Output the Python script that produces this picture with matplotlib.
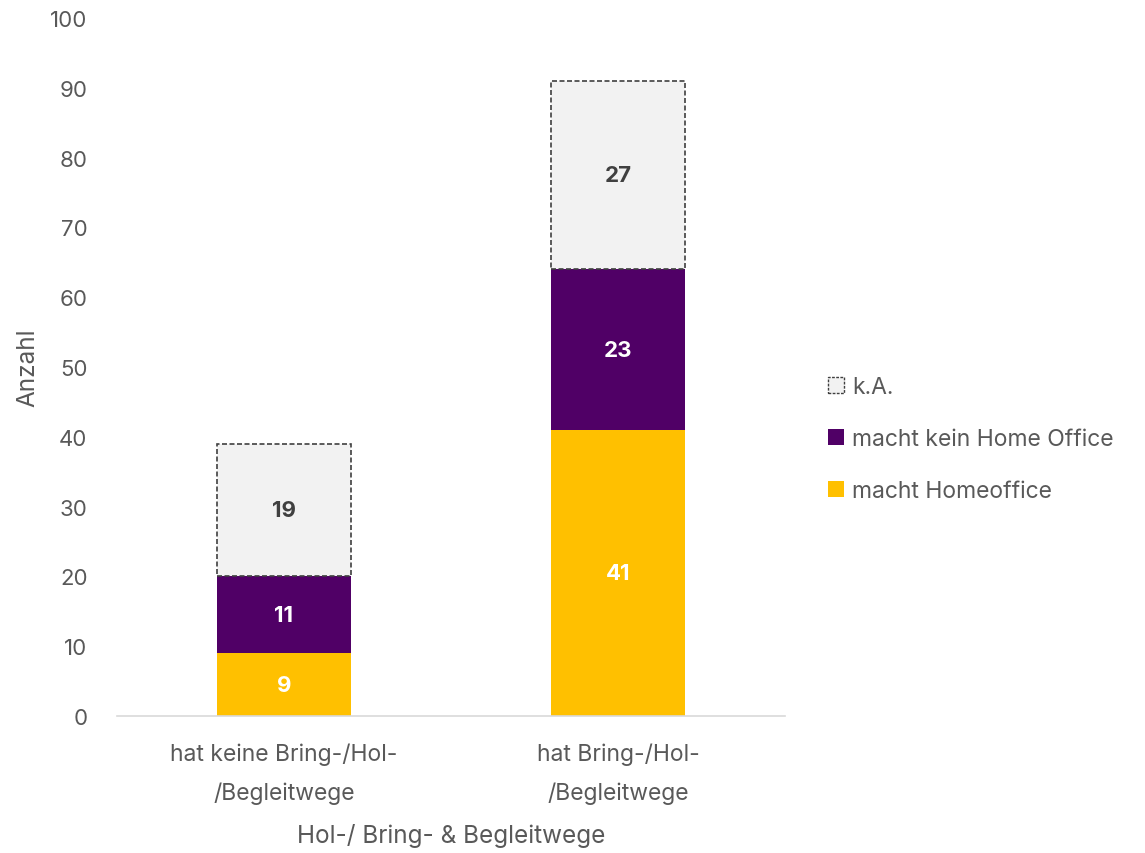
import numpy as np
import matplotlib
matplotlib.use("Agg")
import matplotlib.pyplot as plt
from matplotlib.patches import Patch

plt.rcParams['font.family'] = ['Inter', 'DejaVu Sans']

# Daten
kategorien = ['hat keine Bring-/Hol-\n/Begleitwege', 'hat Bring-/Hol-\n/Begleitwege']
homeoffice = [9, 41]
kein_homeoffice = [11, 23]
keine_angabe = [19, 27]

textfarbe = '#595959'
gelb = '#FFC000'
lila = '#500066'
grau = '#F2F2F2'

fig = plt.figure(figsize=(11.45, 8.54), dpi=100)
ax = fig.add_axes([0.102, 0.1604, 0.5836, 0.8174])

x = np.arange(len(kategorien))
breite = 0.4
b1 = ax.bar(x, homeoffice, breite, color=gelb)
b2 = ax.bar(x, kein_homeoffice, breite, bottom=homeoffice, color=lila)
unten = np.array(homeoffice) + np.array(kein_homeoffice)
b3 = ax.bar(x, keine_angabe, breite, bottom=unten, color=grau,
            edgecolor='#404040', linestyle=(0, (3, 1.5)), linewidth=1.2)

# Datenbeschriftungen
ax.bar_label(b1, label_type='center', color='white', fontsize=16, fontweight='bold')
ax.bar_label(b2, label_type='center', color='white', fontsize=16, fontweight='bold')
ax.bar_label(b3, label_type='center', color='#404040', fontsize=16, fontweight='bold')

ax.set_xlim(-0.5, 1.5)
ax.set_ylim(0, 100)
ax.set_yticks(range(0, 101, 10))
ax.set_xticks(x)
ax.set_xticklabels(kategorien, fontsize=16.5, color=textfarbe, linespacing=1.95)
ax.tick_params(axis='y', labelsize=16, labelcolor=textfarbe, length=0, pad=21)
ax.tick_params(axis='x', length=0, pad=19)
for s in ['top', 'right', 'left']:
    ax.spines[s].set_visible(False)
ax.spines['bottom'].set_color('#D9D9D9')
ax.spines['bottom'].set_linewidth(1.2)

ax.set_ylabel('Anzahl', fontsize=17.5, color=textfarbe, labelpad=8)
ax.set_xlabel('Hol-/ Bring- & Begleitwege', fontsize=17.5, color=textfarbe, labelpad=14)

handles = [
    Patch(facecolor=grau, edgecolor='#404040', linestyle=(0, (2, 1)), linewidth=1),
    Patch(facecolor=lila),
    Patch(facecolor=gelb),
]
labels = ['k.A.', 'macht kein Home Office', 'macht Homeoffice']
fig.legend(handles, labels, loc='center left', bbox_to_anchor=(0.705, 0.485),
           frameon=False, fontsize=16.5, labelcolor=textfarbe,
           handlelength=0.7, handleheight=0.7, handletextpad=0.35, labelspacing=1.3)

fig.savefig('out.png', dpi=100)
